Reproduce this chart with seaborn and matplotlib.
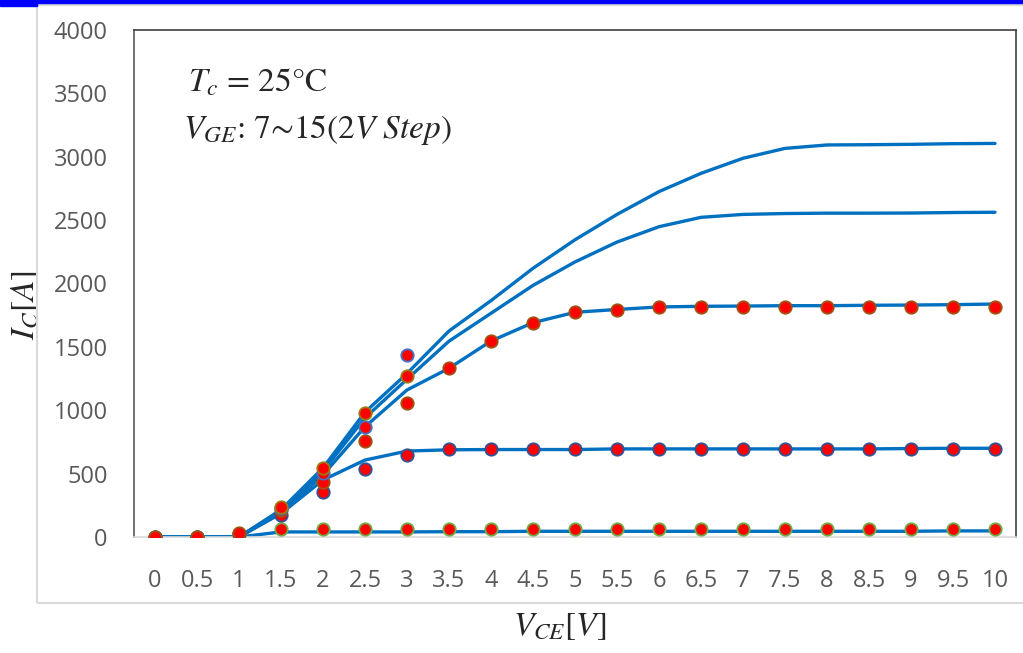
import numpy as np
import pandas as pd
import seaborn as sns
import matplotlib.pyplot as plt
from matplotlib.patches import Rectangle

# V_CE steps (0 ~ 10 V, 0.5 V step)
vce = [0, 0.5, 1, 1.5, 2, 2.5, 3, 3.5, 4, 4.5, 5, 5.5, 6, 6.5, 7, 7.5, 8, 8.5, 9, 9.5, 10]

# simulated curves, one per V_GE
line_7 = [0, 0, 0, 40, 40, 40, 40, 42, 42, 45, 45, 45, 45, 45, 45, 45, 45, 45, 45, 48, 48]
line_9 = [0, 0, 0, 185, 450, 607, 678, 688, 690, 690, 690, 695, 695, 695, 695, 695, 695, 695, 698, 700, 700]
line_11 = [0, 0, 0, 195, 490, 870, 1160, 1331, 1546, 1691, 1773, 1795, 1815, 1820, 1822, 1825, 1825, 1828, 1830, 1833, 1838]
line_13 = [0, 0, 0, 205, 520, 940, 1245, 1545, 1765, 1985, 2170, 2327, 2448, 2522, 2545, 2552, 2555, 2555, 2556, 2560, 2562]
line_15 = [0, 0, 0, 215, 545, 985, 1290, 1625, 1865, 2120, 2345, 2545, 2725, 2869, 2988, 3066, 3093, 3095, 3098, 3103, 3105]

# measured points
meas_7 = [0, 0, 20, 61, 61, 61, 61, 61, 61, 61, 61, 61, 61, 61, 61, 61, 61, 61, 60, 60, 60]
meas_9 = [0, 0, 25, 174, 352, 534, 647, 695, 698, 698, 698, 698, 698, 698, 698, 698, 698, 698, 698, 698, 698]
meas_11 = [0, 0, 30, 213, 436, 760, 1055, 1331, 1546, 1691, 1775, 1791, 1815, 1815, 1815, 1815, 1815, 1815, 1815, 1815, 1815]
meas_13_x = [1.5, 2, 2.5, 3]
meas_13 = [225, 502, 870, 1436]
meas_15_x = [1.5, 2, 2.5, 3]
meas_15 = [239, 547, 976, 1270]

vge_names = ['7V', '9V', '11V', '13V', '15V']

lines = pd.DataFrame({
    'VCE': vce * 5,
    'IC': line_7 + line_9 + line_11 + line_13 + line_15,
    'VGE': np.repeat(vge_names, len(vce)),
})

sns.set_style('white')
plt.rcParams['mathtext.fontset'] = 'stix'
plt.rcParams['font.family'] = ['Open Sans', 'DejaVu Sans']

fig = plt.figure(figsize=(10.23, 6.53), dpi=100)
ax = fig.add_axes([134 / 1023, 1 - 537 / 653, 882 / 1023, 507 / 653])

sns.lineplot(data=lines, x='VCE', y='IC', units='VGE', estimator=None,
             color='#0070C0', lw=2.4, ax=ax, zorder=2)

meas_sets = [
    (vce, meas_7, '#70AD47'),
    (vce, meas_9, '#2F5597'),
    (vce, meas_11, '#A0520F'),
    (meas_13_x, meas_13, '#4472C4'),
    (meas_15_x, meas_15, '#9C7A12'),
]
for xs, ys, edge in meas_sets:
    sns.scatterplot(x=xs, y=ys, color='#FF0000', edgecolor=edge, linewidth=1.3,
                    s=80, ax=ax, zorder=3)

ax.set_xlim(-0.25, 10.25)
ax.set_ylim(0, 4000)
ax.set_xticks(vce)
ax.set_xticklabels([f'{v:g}' for v in vce])
ax.set_yticks(range(0, 4001, 500))

ax.tick_params(axis='x', length=0, pad=23, labelsize=17, labelcolor='#595959')
ax.tick_params(axis='y', direction='in', length=7, width=1, color='#595959',
               pad=19, labelsize=17, labelcolor='#595959')

for side in ['top', 'right']:
    ax.spines[side].set_color('#404040')
    ax.spines[side].set_linewidth(1.2)
ax.spines['left'].set_color('#595959')
ax.spines['left'].set_linewidth(1.2)
ax.spines['bottom'].set_color('#D9D9D9')
ax.spines['bottom'].set_linewidth(1.2)

ax.set_xlabel(r'$V_{CE}[V]$', fontsize=24)
ax.xaxis.set_label_coords((560 - 134) / 882, (537 - 610) / 507)
ax.set_ylabel(r'$I_C[A]$', fontsize=24)
ax.yaxis.set_label_coords((42 - 134) / 882, (537 - 305) / 507)

ax.text(0.061, 0.878, r'$T_c$ = 25°C', transform=ax.transAxes,
        fontsize=24, family='STIXGeneral', va='baseline')
ax.text(0.056, 0.787, '$V_{GE}$: 7\u223c15(2$V\\ Step$)', transform=ax.transAxes,
        fontsize=24, family='STIXGeneral', va='baseline')

# chart frame and top bar from the screenshot
fig.patches.append(Rectangle((37 / 1023, 1 - 603 / 653), 1.0, 598 / 653,
                             transform=fig.transFigure, fill=False,
                             edgecolor='#D9D9D9', lw=1.5))
fig.patches.append(Rectangle((0, 1 - 2.5 / 653), 1.0, 2.5 / 653,
                             transform=fig.transFigure, color='#0000FF'))
fig.patches.append(Rectangle((0, 1 - 5.5 / 653), 37 / 1023, 5.5 / 653,
                             transform=fig.transFigure, color='#0000FF'))

plt.savefig('out.png', dpi=100)
